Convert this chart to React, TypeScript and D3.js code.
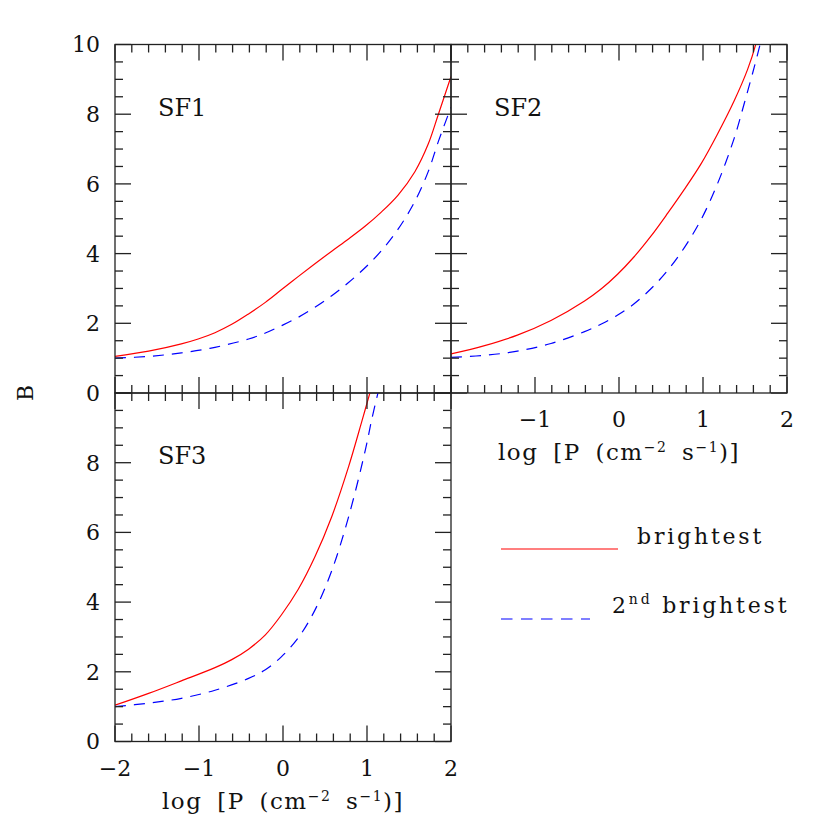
import React from 'react';
import * as d3 from 'd3';

// ---- data (log P, B) ----
const sf1BrightX = [-2, -1.6, -1.21, -1.01, -0.81, -0.61, -0.41, -0.21, -0.02, 0.18, 0.38, 0.58, 0.78, 0.98, 1.17, 1.37, 1.57, 1.73, 1.85, 2.0];
const sf1BrightY = [1.05, 1.2, 1.41, 1.55, 1.73, 1.97, 2.27, 2.6, 2.96, 3.34, 3.71, 4.07, 4.42, 4.79, 5.19, 5.68, 6.35, 7.15, 8.0, 9.08];
const sf1SecondX = [-2, -1.6, -1.21, -0.81, -0.41, -0.21, -0.02, 0.18, 0.38, 0.58, 0.78, 0.98, 1.17, 1.37, 1.57, 1.73, 1.85, 2.0];
const sf1SecondY = [1.0, 1.05, 1.15, 1.31, 1.55, 1.72, 1.93, 2.17, 2.46, 2.79, 3.17, 3.6, 4.08, 4.7, 5.5, 6.36, 7.22, 8.2];

const sf2BrightX = [-2, -1.6, -1.21, -0.81, -0.41, -0.21, -0.02, 0.18, 0.38, 0.58, 0.78, 0.98, 1.17, 1.37, 1.53, 1.63];
const sf2BrightY = [1.12, 1.36, 1.66, 2.08, 2.64, 2.99, 3.4, 3.91, 4.5, 5.16, 5.85, 6.59, 7.42, 8.38, 9.28, 10.02];
const sf2SecondX = [-2, -1.6, -1.21, -0.81, -0.41, -0.21, -0.02, 0.18, 0.38, 0.58, 0.78, 0.98, 1.17, 1.37, 1.49, 1.61, 1.69];
const sf2SecondY = [1.02, 1.08, 1.2, 1.42, 1.76, 1.98, 2.23, 2.56, 2.99, 3.52, 4.18, 4.99, 5.99, 7.3, 8.3, 9.35, 10.1];

const sf3BrightX = [-2, -1.6, -1.21, -0.81, -0.61, -0.41, -0.21, -0.02, 0.18, 0.38, 0.58, 0.78, 0.94, 1.04];
const sf3BrightY = [1.04, 1.38, 1.74, 2.12, 2.35, 2.65, 3.06, 3.63, 4.36, 5.3, 6.45, 7.88, 9.2, 10.05];
const sf3SecondX = [-2, -1.6, -1.21, -0.81, -0.41, -0.21, -0.02, 0.18, 0.38, 0.58, 0.78, 0.98, 1.06, 1.14];
const sf3SecondY = [1.0, 1.1, 1.24, 1.47, 1.81, 2.06, 2.43, 2.97, 3.77, 4.9, 6.44, 8.36, 9.28, 10.1];

const panelNames = ['SF1', 'SF2', 'SF3'];
const yTickLabelsSF1 = [0, 2, 4, 6, 8, 10];
const yTickLabelsSF3 = [0, 2, 4, 6, 8];
const xTickLabelsSF2 = [-1, 0, 1, 2];
const xTickLabelsSF3 = [-2, -1, 0, 1, 2];
const legendLabels = ['brightest', '2nd brightest'];

const FONT = "'DejaVu Serif', serif";
const AX = '#222';
const RED = '#ff0000';
const BLUE = '#0000ff';

type Panel = {
  name: string; x0: number; y0: number;
  bright: [number[], number[]]; second: [number[], number[]];
  yLabels: number[]; xLabels: number[];
};

const W = 336;
const H = 348.5;

const panels: Panel[] = [
  { name: panelNames[0], x0: 115, y0: 44.5, bright: [sf1BrightX, sf1BrightY], second: [sf1SecondX, sf1SecondY], yLabels: yTickLabelsSF1, xLabels: [] },
  { name: panelNames[1], x0: 451, y0: 44.5, bright: [sf2BrightX, sf2BrightY], second: [sf2SecondX, sf2SecondY], yLabels: [], xLabels: xTickLabelsSF2 },
  { name: panelNames[2], x0: 115, y0: 393, bright: [sf3BrightX, sf3BrightY], second: [sf3SecondX, sf3SecondY], yLabels: yTickLabelsSF3, xLabels: xTickLabelsSF3 },
];

const fmt = (v: number) => (v < 0 ? '\u2212' + Math.abs(v) : String(v));

function PanelView({ p, idx }: { p: Panel; idx: number }) {
  const x = d3.scaleLinear().domain([-2, 2]).range([p.x0, p.x0 + W]);
  const y = d3.scaleLinear().domain([0, 10]).range([p.y0 + H, p.y0]);
  const line = d3.line<[number, number]>().x(d => x(d[0])).y(d => y(d[1])).curve(d3.curveCatmullRom.alpha(0.5));
  const toPts = (s: [number[], number[]]) => s[0].map((v, i) => [v, s[1][i]] as [number, number]);
  const clipId = `clip${idx}`;
  const xMinor = d3.range(-2, 2.0001, 0.2).map(v => +v.toFixed(2));
  const yMinor = d3.range(0, 10.0001, 0.5).map(v => +v.toFixed(2));
  const isMajorX = (v: number) => Math.abs(v - Math.round(v)) < 1e-6;
  const isMajorY = (v: number) => Math.abs(v / 2 - Math.round(v / 2)) < 1e-6;
  const top = p.y0, bot = p.y0 + H, left = p.x0, right = p.x0 + W;
  return (
    <g>
      <defs>
        <clipPath id={clipId}>
          <rect x={left} y={top} width={W} height={H} />
        </clipPath>
      </defs>
      <g clipPath={`url(#${clipId})`}>
        <path d={line(toPts(p.bright)) || ''} fill="none" stroke={RED} strokeWidth={1.2} />
        <path d={line(toPts(p.second)) || ''} fill="none" stroke={BLUE} strokeWidth={1.2} strokeDasharray="11 8" />
      </g>
      <rect x={left} y={top} width={W} height={H} fill="none" stroke={AX} strokeWidth={1.3} />
      {xMinor.map(v => {
        const L = isMajorX(v) ? 16 : 8;
        return (
          <g key={'x' + v}>
            <line x1={x(v)} x2={x(v)} y1={bot} y2={bot - L} stroke={AX} strokeWidth={1.3} />
            <line x1={x(v)} x2={x(v)} y1={top} y2={top + L} stroke={AX} strokeWidth={1.3} />
          </g>
        );
      })}
      {yMinor.map(v => {
        const L = isMajorY(v) ? 16 : 8;
        return (
          <g key={'y' + v}>
            <line x1={left} x2={left + L} y1={y(v)} y2={y(v)} stroke={AX} strokeWidth={1.3} />
            <line x1={right} x2={right - L} y1={y(v)} y2={y(v)} stroke={AX} strokeWidth={1.3} />
          </g>
        );
      })}
      {p.yLabels.map(v => (
        <text key={'yl' + v} x={left - 15} y={y(v)} dy="0.36em" textAnchor="end" fontFamily={FONT} fontSize={22} fill="#111">{fmt(v)}</text>
      ))}
      {p.xLabels.map(v => (
        <text key={'xl' + v} x={x(v)} y={bot + 34} textAnchor="middle" fontFamily={FONT} fontSize={22} fill="#111">{fmt(v)}</text>
      ))}
      {p.xLabels.length > 0 && (
        <text x={x(0)} y={bot + 67} textAnchor="middle" fontFamily={FONT} fontSize={23} fill="#111" letterSpacing={1.5} wordSpacing={6}>
          log [P (cm<tspan fontSize={14} dy={-8}>{'\u2212'}2</tspan><tspan dy={8}> s</tspan><tspan fontSize={14} dy={-8}>{'\u2212'}1</tspan><tspan dy={8}>)]</tspan>
        </text>
      )}
      <text x={left + 43} y={top + 71} fontFamily={FONT} fontSize={24} fill="#111">{p.name}</text>
    </g>
  );
}

export default function App() {
  return (
    <svg width={830} height={830} style={{ position: 'absolute', left: 0, top: 0, background: '#fff' }}>
      <rect x={0} y={0} width={830} height={830} fill="#fff" />
      {panels.map((p, i) => <PanelView key={p.name} p={p} idx={i} />)}
      <text transform="translate(33,393) rotate(-90)" textAnchor="middle" fontFamily={FONT} fontSize={22} fill="#111">B</text>
      {/* legend */}
      <line x1={501} x2={618} y1={549} y2={549} stroke={RED} strokeWidth={1.2} />
      <text x={637} y={544} fontFamily={FONT} fontSize={22} letterSpacing={2.8} fill="#111">{legendLabels[0]}</text>
      <line x1={501} x2={590} y1={619} y2={619} stroke={BLUE} strokeWidth={1.2} strokeDasharray="11.5 8.5" />
      <text x={612} y={613} fontFamily={FONT} fontSize={22} letterSpacing={2.8} fill="#111">
        2<tspan fontSize={14} dy={-9}>nd</tspan><tspan dy={9}>{' ' + legendLabels[1].split(' ')[1]}</tspan>
      </text>
    </svg>
  );
}
